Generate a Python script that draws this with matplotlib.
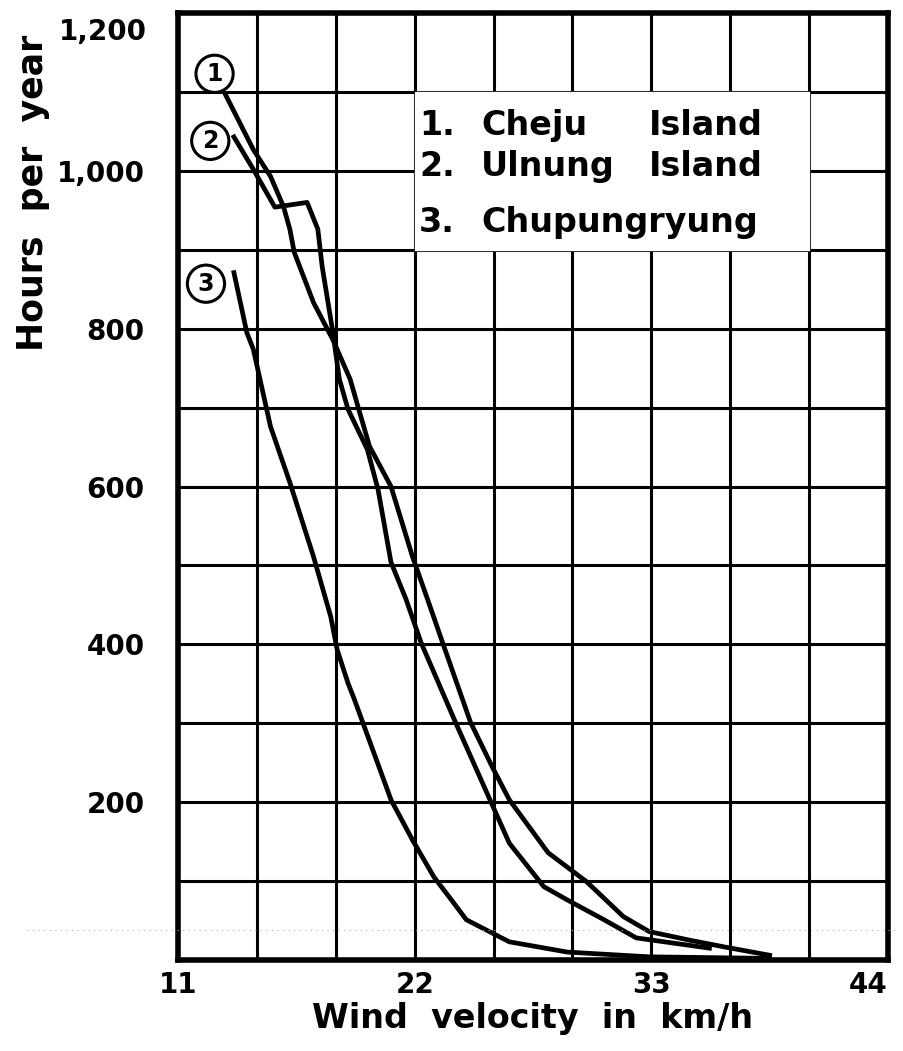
import numpy as np
import matplotlib
matplotlib.use('Agg')
import matplotlib.pyplot as plt
from matplotlib.lines import Line2D

# values (wind velocity km/h, hours per year)
cheju_x = [13.2, 14.5, 15.3, 15.9, 16.2, 16.4, 17.3, 18.2, 19.0, 19.4, 19.9, 20.9, 21.9,
           22.6, 23.3, 24.6, 25.6, 26.4, 28.2, 30.0, 31.7, 32.9, 34.8, 36.5, 38.5]
cheju_y = [1097, 1027, 993, 955, 926, 897, 833, 786, 736, 698, 651, 600, 511,
           457, 402, 301, 245, 203, 136, 99, 55, 36, 25, 16, 6]

ulnung_x = [13.6, 14.5, 15.5, 17.0, 17.5, 17.7, 18.2, 18.5, 18.9, 19.8, 20.3, 20.9,
            21.6, 22.3, 23.9, 25.5, 26.4, 28.0, 29.1, 30.8, 32.3, 35.7]
ulnung_y = [1043, 1002, 954, 960, 926, 879, 795, 736, 698, 647, 596, 504,
            457, 402, 301, 203, 148, 93, 76, 51, 28, 15]

chup_x = [13.6, 14.2, 14.5, 15.3, 16.2, 17.3, 18.1, 18.4, 18.9, 19.2, 20.9,
          21.9, 22.9, 23.6, 24.4, 26.4, 29.1, 32.9, 38.5]
chup_y = [871, 795, 774, 676, 605, 511, 435, 393, 351, 330, 203,
          152, 105, 80, 51, 23, 10, 4, 2]

x_labels = ['11', '', '', '22', '', '', '33', '', '', '44']
y_labels = ['', '', '200', '', '400', '', '600', '', '800', '', '1,000', '', '']
top_label = '1,200'
legend_nums = ['1.', '2.', '3.']
legend_names = ['Cheju', 'Ulnung', 'Chupungryung']
legend_tail = ['Island', 'Island', '']

plt.rcParams['font.family'] = ['DejaVu Sans']
plt.rcParams['font.weight'] = 'bold'

fig = plt.figure(figsize=(9.04, 10.51), dpi=100)
ax = fig.add_axes([0.1969, 0.0866, 0.7854, 0.9010])

ax.set_xlim(11, 44)
ax.set_ylim(0, 1200)
ax.set_xticks(np.linspace(11, 44, 10))
ax.set_xticklabels(x_labels)
ax.set_yticks(np.arange(0, 1201, 100))
ax.set_yticklabels(y_labels)
ax.tick_params(length=0, labelsize=20, pad=8)
ax.tick_params(axis='y', pad=24)
for lab in ax.get_xticklabels():
    if lab.get_text() == '44':
        lab.set_ha('right')
# the top label sits a little below its grid line in the original
ax.text(-0.044, 1176, top_label, transform=ax.get_yaxis_transform(),
        fontsize=20, fontweight='bold', ha='right', va='center')

ax.grid(True, color='black', lw=2.2)
ax.set_axisbelow(True)
for s in ax.spines.values():
    s.set_linewidth(4)

# white patch behind the station names hides the grid
ax.fill_between([22, 40.33], 900, 1100, color='white', zorder=1.5)
for yv, num, name, tail in zip([1057, 1005, 935], legend_nums, legend_names, legend_tail):
    ax.text(22.2, yv, num, fontsize=24, fontweight='bold', va='center', zorder=3)
    ax.text(25.1, yv, name, fontsize=24, fontweight='bold', va='center', zorder=3)
    ax.text(32.9, yv, tail, fontsize=24, fontweight='bold', va='center', zorder=3)

for xs, ys in [(cheju_x, cheju_y), (ulnung_x, ulnung_y), (chup_x, chup_y)]:
    ax.plot(xs, ys, color='black', lw=3.4, zorder=3, solid_joinstyle='round')

circ = dict(boxstyle='circle,pad=0.28', fc='white', ec='black', lw=2.2)
ax.text(12.7, 1123, '1', fontsize=17, ha='center', va='center', bbox=circ, zorder=4)
ax.text(12.5, 1038, '2', fontsize=17, ha='center', va='center', bbox=circ, zorder=4)
ax.text(12.3, 857, '3', fontsize=17, ha='center', va='center', bbox=circ, zorder=4)

ax.set_xlabel('Wind  velocity  in  km/h', fontsize=24, fontweight='bold', labelpad=2)
ax.set_ylabel('Hours  per  year', fontsize=25, fontweight='bold')
ax.yaxis.set_label_coords(-0.18, 0.81)

# faint scanning streak across the sheet
fig.add_artist(Line2D([0.03, 0.99], [1 - 930 / 1051] * 2, color='0.7',
                      lw=0.8, ls=(0, (1, 4))))

fig.savefig('out.png', dpi=100)
